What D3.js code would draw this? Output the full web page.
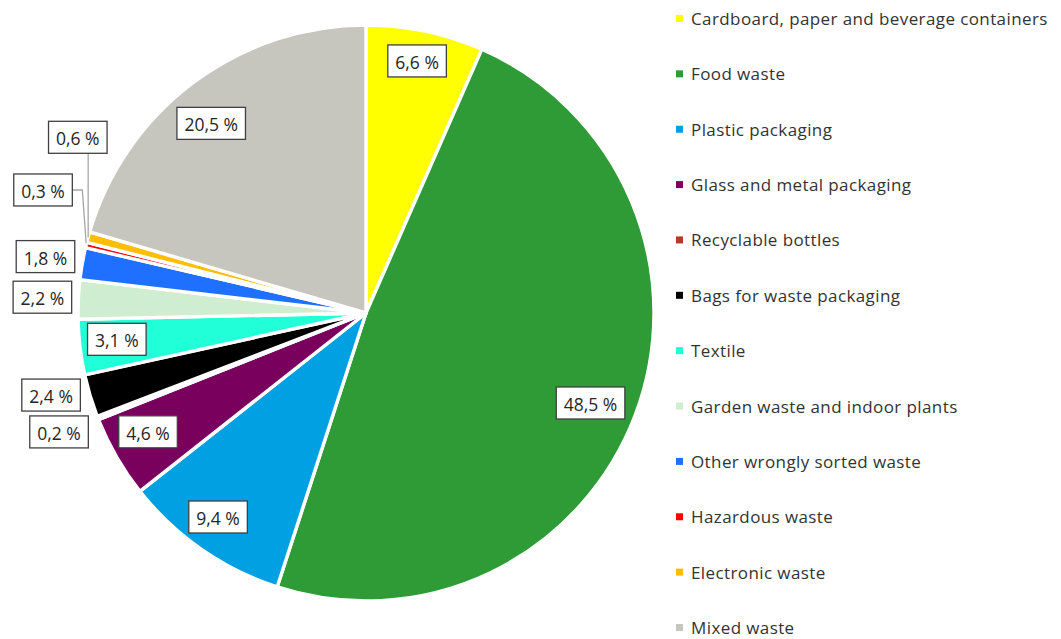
<!DOCTYPE html>
<html>
<head>
<meta charset="utf-8">
<script src="https://cdn.jsdelivr.net/npm/d3@7"></script>
<style>
  html, body { margin: 0; padding: 0; background: #ffffff; }
  svg { display: block; }
</style>
</head>
<body>
<svg id="chart" width="1061" height="639"></svg>
<script>
// Composition of the sorted household waste, share of weight (%)
const categories = [
  "Cardboard, paper and beverage containers",
  "Food waste",
  "Plastic packaging",
  "Glass and metal packaging",
  "Recyclable bottles",
  "Bags for waste packaging",
  "Textile",
  "Garden waste and indoor plants",
  "Other wrongly sorted waste",
  "Hazardous waste",
  "Electronic waste",
  "Mixed waste"
];
const shares = [6.6, 48.5, 9.4, 4.6, 0.2, 2.4, 3.1, 2.2, 1.8, 0.3, 0.6, 20.5];
const labelTexts = ["6,6 %", "48,5 %", "9,4 %", "4,6 %", "0,2 %", "2,4 %", "3,1 %", "2,2 %", "1,8 %", "0,3 %", "0,6 %", "20,5 %"];
const colors = ["#ffff00", "#2e9b37", "#00a0e2", "#7a005e", "#b23a26", "#000000",
                "#20ffd8", "#cfedd0", "#2070ff", "#ff0000", "#ffbe00", "#c6c6be"];

// Label anchors: radius as a fraction of the pie radius, plus an angular nudge in degrees
const labelPlacement = [
  { rf: 0.893, da: -0.4 }, { rf: 0.84, da: 1.0 }, { rf: 0.875, da: 1.1 },
  { rf: 0.862, da: 1.4 }, { rf: 1.143, da: 0.2 }, { rf: 1.13, da: 2.1 },
  { rf: 0.87, da: 0.8 }, { rf: 1.125, da: 0.1 }, { rf: 1.13, da: 0.1 },
  { rf: 1.2, da: 7.2, leader: "elbow" }, { rf: 1.172, da: 16.1, leader: "down" },
  { rf: 0.85, da: -2.4 }
];

const svg = d3.select("#chart");
const cx = 366, cy = 313, R = 288;

const data = categories.map((c, i) => ({ name: c, value: shares[i], label: labelTexts[i], color: colors[i], place: labelPlacement[i] }));

const pie = d3.pie().value(d => d.value).sort(null).startAngle(0).endAngle(2 * Math.PI);
const arcs = pie(data);
const arc = d3.arc().innerRadius(0).outerRadius(R);

const g = svg.append("g").attr("transform", `translate(${cx},${cy})`);

g.selectAll("path.slice")
  .data(arcs)
  .join("path")
  .attr("class", "slice")
  .attr("d", arc)
  .attr("fill", d => d.data.color)
  .attr("stroke", "#ffffff")
  .attr("stroke-width", 3.4)
  .attr("stroke-linejoin", "round");

const polar = (angleRad, r) => [r * Math.sin(angleRad), -r * Math.cos(angleRad)];

// Data labels (boxed)
const labelFont = "'Open Sans', sans-serif";
const labels = g.append("g").attr("class", "labels");

arcs.forEach(a => {
  const mid = (a.startAngle + a.endAngle) / 2;
  const p = a.data.place;
  const [lx, ly] = polar(mid + p.da * Math.PI / 180, p.rf * R);
  const grp = labels.append("g").attr("transform", `translate(${lx},${ly})`);
  const rect = grp.append("rect");
  const txt = grp.append("text")
    .attr("text-anchor", "middle")
    .attr("dominant-baseline", "central")
    .attr("y", 1)
    .style("font-family", labelFont)
    .style("font-size", "17.5px")
    .attr("fill", "#262626")
    .text(a.data.label);
  const w = txt.node().getComputedTextLength() + 15;
  const h = 32;
  rect.attr("x", -w / 2).attr("y", -h / 2).attr("width", w).attr("height", h)
    .attr("fill", "#ffffff").attr("stroke", "#404040").attr("stroke-width", 1.3);

  // Leader lines for the labels moved away from their slices
  if (p.leader) {
    const [ex, ey] = polar(mid, R);
    let pts;
    if (p.leader === "down") {
      pts = [[ex, ly + h / 2], [ex, ey]];
    } else {
      pts = [[lx + w / 2, ly], [lx + w / 2 + 10, ly], [ex, ey - 2]];
    }
    g.insert("path", ".labels")
      .attr("d", d3.line()(pts))
      .attr("fill", "none")
      .attr("stroke", "#a6a6a6")
      .attr("stroke-width", 1.3);
  }
});

// Legend
const legendY = d3.scalePoint().domain(categories).range([18.5, 627.5]);
const legend = svg.append("g").attr("class", "legend");
const items = legend.selectAll("g").data(data).join("g")
  .attr("transform", d => `translate(676,${legendY(d.name)})`);
items.append("rect")
  .attr("x", 0).attr("y", -3.5).attr("width", 7).attr("height", 7)
  .attr("fill", d => d.color);
items.append("text")
  .attr("x", 15).attr("y", 0)
  .attr("dominant-baseline", "central")
  .style("font-family", "'Open Sans', sans-serif")
  .style("font-size", "17px")
  .style("letter-spacing", "0.4px")
  .attr("fill", "#333333")
  .text(d => d.name);
</script>
</body>
</html>
